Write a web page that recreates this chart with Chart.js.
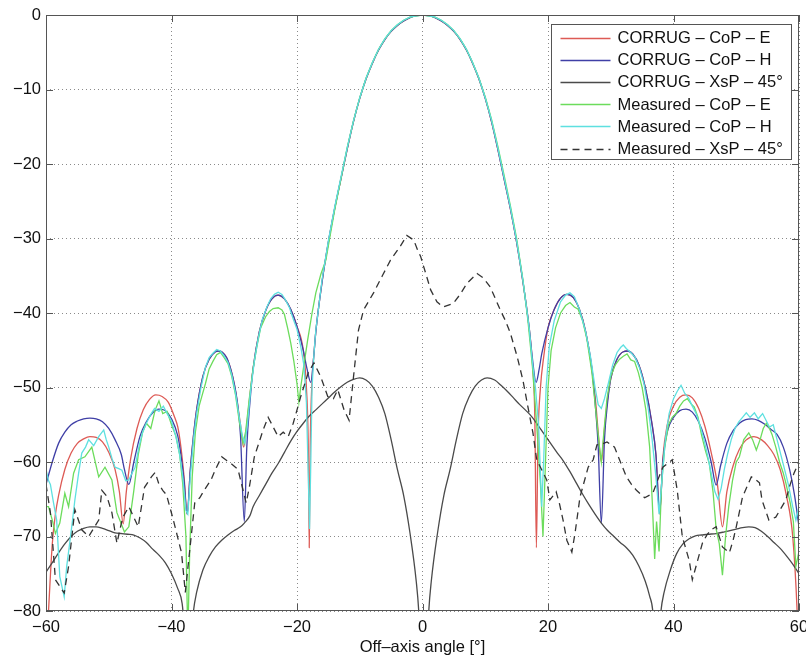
<!DOCTYPE html>
<html>
<head>
<meta charset="utf-8">
<title>Radiation pattern</title>
<script src="https://cdn.jsdelivr.net/npm/chart.js@4.4.0/dist/chart.umd.min.js"></script>
<style>
  html, body { margin: 0; padding: 0; background: #fff; }
  canvas { display: block; }
</style>
</head>
<body>
<canvas id="pattern" width="806" height="656"></canvas>
<script>
// series labels, in the order they appear in the legend
const seriesLabels = [
  'CORRUG \u2013 CoP \u2013 E',
  'CORRUG \u2013 CoP \u2013 H',
  'CORRUG \u2013 XsP \u2013 45\u00b0',
  'Measured \u2013 CoP \u2013 E',
  'Measured \u2013 CoP \u2013 H',
  'Measured \u2013 XsP \u2013 45\u00b0'
];

const xTicks = [-60, -40, -20, 0, 20, 40, 60];
const yTicks = [-80, -70, -60, -50, -40, -30, -20, -10, 0];

// CORRUG - CoP - E (model, red)
const corrugEAngle = [
  -60, -59.6, -59, -58.5, -58, -57, -56, -55, -54, -53,
  -52, -51, -50, -49, -48.3, -47.7, -47.2, -46.5, -45.5, -44.5,
  -43.5, -42.5, -41.5, -40.5, -39.5, -39, -38.5, -38, -37.5, -37,
  -36.5, -36, -35, -34, -33, -32.5, -32, -31, -30, -29,
  -28.5, -28, -27.5, -27, -26, -25, -24, -23, -22, -21,
  -20, -19, -18.5, -18.2, -18.05, -17.9, -17.6, -17.3, -17, -16,
  -15, -14, -13, -12, -11, -10, -9, -8, -7, -6,
  -5, -4, -3, -2, -1, 0, 1, 2, 3, 4,
  5, 6, 7, 8, 9, 10, 11, 12, 13, 14,
  15, 16, 17, 17.5, 17.9, 18.15, 18.4, 18.8, 19.3, 20,
  21, 22, 23, 24, 25, 26, 27, 27.6, 28, 28.5,
  29, 29.5, 30, 31, 32, 32.7, 33.5, 34.5, 35.5, 36.5,
  37.2, 37.8, 38.3, 39, 40, 41, 42, 43, 44, 45,
  46, 47, 47.8, 48.5, 49.5, 50.5, 51.5, 52.8, 54, 55,
  56, 57, 58, 59, 59.7, 60
];
const corrugEValue = [
  -86, -80, -71, -67, -64.5, -61, -58.8, -57.5, -56.9, -56.6,
  -56.7, -57.3, -58.7, -61, -64, -68.3, -64, -59.5, -55.5, -53,
  -51.6, -51, -51.2, -52, -54, -55.3, -58, -62, -67, -61,
  -56.5, -53, -48.5, -46.2, -45.2, -45.1, -45.2, -46.4, -49.5, -55,
  -58, -55, -51, -47.5, -42.5, -39.7, -38.1, -37.6, -38.1, -39.5,
  -41.8, -45, -50, -58, -71.5, -58, -49, -45.5, -42.5, -35.8,
  -30.5, -26, -22, -18, -14.3, -11.2, -8.6, -6.5, -4.7, -3.3,
  -2.2, -1.4, -0.8, -0.35, -0.08, 0, -0.08, -0.35, -0.8, -1.4,
  -2.2, -3.3, -4.7, -6.5, -8.6, -11.2, -14.3, -18, -22, -26,
  -30.5, -35.8, -42, -46.5, -54, -71.5, -57, -50, -46, -42,
  -39.5, -38, -37.5, -37.9, -39.5, -42.5, -47.5, -52, -56, -60,
  -55.5, -51.5, -48.8, -46.2, -45.2, -45.1, -45.5, -47, -50, -54.5,
  -59, -67, -59.5, -55, -52.5, -51.3, -51, -51.4, -52.8, -55.2,
  -58.7, -63, -68.7, -64, -60.5, -58.3, -57.1, -56.6, -57, -57.8,
  -59, -61, -64.5, -70, -80, -88
];

// CORRUG - CoP - H (model, blue)
const corrugHAngle = [
  -60, -59, -58, -57, -56, -55, -54, -53, -52, -51,
  -50, -49, -48, -47.5, -46.8, -46, -45, -44, -43, -42,
  -41, -40, -39, -38.5, -38, -37.5, -37, -36.5, -36, -35,
  -34, -33, -32.5, -32, -31, -30, -29.5, -29, -28.4, -28,
  -27.5, -27, -26, -25, -24, -23, -22, -21, -20, -19,
  -18.4, -17.8, -17.3, -17, -16, -15, -14, -13, -12, -11,
  -10, -9, -8, -7, -6, -5, -4, -3, -2, -1,
  0, 1, 2, 3, 4, 5, 6, 7, 8, 9,
  10, 11, 12, 13, 14, 15, 16, 17, 17.5, 18.1,
  18.6, 19, 20, 21, 22, 23, 24, 25, 26, 27,
  27.6, 28, 28.5, 29, 29.5, 30, 31, 32, 32.7, 33.5,
  34.5, 35.5, 36.5, 37.2, 37.8, 38.3, 39, 40, 41, 42,
  43, 44, 45, 46, 46.8, 47.5, 48.5, 49.5, 50.5, 51.5,
  52.5, 53.5, 54.5, 55.5, 56.5, 57.5, 58.5, 59.3, 60
];
const corrugHValue = [
  -63, -60, -57.5, -56, -55, -54.5, -54.2, -54.1, -54.2, -54.6,
  -55.5, -57, -59, -61, -63, -60, -56.5, -54.6, -53.4, -52.9,
  -53.1, -54.2, -56.5, -59, -62.5, -67, -61, -56.5, -53, -48.5,
  -46.2, -45.2, -45.1, -45.2, -46.4, -49.5, -52, -56.5, -68, -58,
  -52, -47.5, -42.5, -39.7, -38.1, -37.6, -38.1, -39.5, -41.8, -45,
  -47.5, -49.3, -45.5, -42.5, -35.8, -30.5, -26, -22, -18, -14.3,
  -11.2, -8.6, -6.5, -4.7, -3.3, -2.2, -1.4, -0.8, -0.35, -0.08,
  0, -0.08, -0.35, -0.8, -1.4, -2.2, -3.3, -4.7, -6.5, -8.6,
  -11.2, -14.3, -18, -22, -26, -30.5, -35.8, -42, -46, -49.3,
  -47.5, -45.5, -42, -39.5, -38, -37.5, -37.9, -39.5, -42.5, -47.5,
  -53, -58, -68.2, -57, -52, -48.8, -46.2, -45.2, -45.1, -45.5,
  -47, -50, -54.5, -59, -66.8, -60, -56, -54, -53.1, -52.9,
  -53.3, -54.6, -56.8, -60, -63.1, -60.5, -57.5, -55.8, -54.8, -54.3,
  -54.2, -54.4, -54.9, -55.6, -56.3, -58, -61, -64.5, -68.7
];

// CORRUG - XsP - 45 deg (model, dark grey)
const corrugXAngle = [
  -60, -59, -58, -57, -56, -55, -54, -53, -52, -51,
  -50, -49, -48, -47, -46, -45, -44, -43, -42, -41,
  -40, -39, -38.3, -37.3, -36.5, -36, -35, -34, -33, -32,
  -31, -30, -29, -28.4, -27.5, -27, -26, -25, -24, -23,
  -22, -21, -20, -19, -18, -17, -16, -15, -14, -13,
  -12, -11, -10, -9, -8, -7, -6, -5, -4, -3,
  -2, -1, -0.6, 0.2, 1, 1.4, 2.4, 3.4, 4.4, 5.4,
  6.4, 7.4, 8.4, 9.4, 10.3, 11.5, 12.5, 13.5, 14.5, 15.5,
  16.5, 17.5, 18.5, 19.5, 20.5, 21.5, 22.4, 23.5, 24.5, 25.5,
  26.5, 27.5, 28.5, 29.5, 30.5, 31.5, 32.5, 33.5, 34.5, 35.5,
  36.2, 36.7, 37.3, 38, 38.5, 39.5, 40.5, 41.5, 42.5, 43.5,
  44.5, 45.5, 46.8, 48, 49, 50, 51, 52, 53, 54,
  55, 56, 57, 58, 59, 60
];
const corrugXValue = [
  -74.8, -73.5, -72.2, -71, -70, -69.3, -68.9, -68.7, -68.7, -68.9,
  -69.2, -69.5, -69.6, -69.7, -69.8, -70.2, -70.8, -71.7, -72.5, -73.5,
  -75, -77, -79, -88, -80, -77.5, -74.5, -72.7, -71.4, -70.5,
  -69.8, -69.2, -68.7, -68.2, -67.2, -66, -64.5, -63, -61.5, -60.2,
  -58.7, -57.2, -55.9, -54.8, -53.8, -53, -52.2, -51.4, -50.6, -49.9,
  -49.3, -48.9, -48.7, -49, -49.8, -51.3, -53.5, -57, -61, -64.5,
  -69.5, -76, -80, -95, -80, -76, -69.5, -64.5, -61, -57,
  -53.5, -51.3, -49.8, -49, -48.7, -49, -49.7, -50.5, -51.4, -52.3,
  -53.1, -54, -55.2, -56.4, -57.6, -58.8, -59.8, -61.3, -62.8, -64.3,
  -65.7, -67, -68.2, -69.2, -70, -70.8, -71.5, -72.5, -74, -76,
  -78, -80, -88, -80, -77.5, -74.5, -72.3, -71, -70.3, -69.9,
  -69.8, -69.7, -69.6, -69.4, -69.2, -69, -68.8, -68.7, -68.8, -69.3,
  -70, -70.8, -71.6, -72.6, -73.7, -75
];

// Measured - CoP - E (green)
const measEAngle = [
  -60, -59.6, -59, -58.5, -57.8, -57, -56.4, -55.6, -54.8, -53.8,
  -52.7, -51.6, -50.6, -49.5, -48.7, -47.5, -46.8, -46, -45.3, -44.6,
  -44, -43.3, -42.6, -42, -41.4, -40.7, -40, -39.3, -38.7, -38.2,
  -37.7, -37.4, -37.1, -36.7, -36.2, -35.6, -35.2, -34.6, -34, -33.4,
  -32.8, -32.2, -31.6, -31, -30.4, -29.8, -29.2, -28.6, -28.2, -27.6,
  -27, -26.4, -25.8, -25, -24.4, -23.8, -23, -22.4, -22, -21.5,
  -21, -20.5, -20, -19.7, -19.4, -18.9, -18.3, -17.6, -17, -16.2,
  -15.4, -14.8, -14, -13, -12, -11, -10, -9, -8, -7,
  -6, -5, -4, -3, -2, -1, 0, 1, 2, 3,
  4, 5, 6, 7, 8, 9, 10, 11, 12, 13,
  14, 15, 16, 16.8, 17.5, 18.2, 18.8, 19.2, 19.6, 20,
  20.5, 21.2, 22, 22.8, 23.5, 24.2, 24.8, 25.5, 26.2, 27,
  27.6, 28.2, 28.5, 28.9, 29.4, 30, 30.7, 31.4, 32, 32.6,
  33.2, 33.8, 34.4, 35, 35.6, 36.2, 36.6, 37, 37.3, 37.7,
  38.1, 38.6, 39.2, 39.8, 40.4, 41, 41.6, 42.2, 42.8, 43.3,
  43.9, 44.5, 45.1, 45.7, 46.3, 46.8, 47.3, 47.8, 48.3, 48.8,
  49.4, 50, 50.5, 51.2, 52, 52.6, 53.2, 53.8, 54.3, 54.8,
  55.3, 55.7, 56.3, 56.9, 57.5, 57.9, 58.6, 59.1, 59.5, 60
];
const measEValue = [
  -66, -66, -67.8, -69.6, -68.2, -64.2, -66, -61.5, -59.7, -59.3,
  -58, -62, -60.7, -62.4, -66.8, -69.4, -68.7, -63.8, -59, -56,
  -54.8, -55.5, -53, -51.8, -53.5, -53.2, -55, -56.5, -59, -63,
  -70, -84, -72, -62, -56, -52.5, -51.3, -49.5, -47.5, -46.5,
  -45.6, -45.3, -46, -46.8, -48.5, -51, -54.5, -57.5, -56, -51.5,
  -47.5, -44.5, -42, -40.5, -39.8, -39.4, -39.3, -39.6, -40.2, -42,
  -44, -46.5, -49.5, -52, -49.9, -47, -43.6, -40, -37.3, -34.8,
  -32.9, -30, -26.2, -22, -17.8, -14.2, -11.1, -8.5, -6.4, -4.6,
  -3.2, -2.1, -1.3, -0.7, -0.3, -0.1, 0, -0.1, -0.3, -0.7,
  -1.3, -2.1, -3.2, -4.6, -6.4, -8.5, -11, -14, -17.6, -21.5,
  -25.6, -30, -35.5, -41, -47, -55, -63, -70, -60, -50,
  -45, -42, -40, -39, -38.6, -39.2, -39.5, -41, -43.5, -48,
  -53, -58, -60, -56, -51.5, -48.5, -47, -46.2, -45.8, -45.5,
  -46.3, -46.5, -48, -50, -53, -58, -65, -73, -68, -72,
  -63, -58, -55, -54, -53.5, -52.5, -51.8, -51.5, -52.2, -52.6,
  -54, -56.5, -58.5, -60.2, -64, -69, -71, -75.2, -70, -66,
  -62.5, -60, -59.3, -57, -56.1, -57, -58.4, -57, -55.5, -54.8,
  -55.5, -56.3, -58, -60, -61.5, -62.8, -65.5, -68, -74, -72
];

// Measured - CoP - H (cyan)
const measHAngle = [
  -60, -59.6, -59.3, -58.8, -58.3, -57.8, -57.1, -56.7, -56.3, -55.8,
  -55.4, -54.8, -54.3, -53.7, -53.2, -52.4, -51.6, -50.8, -50.4, -50,
  -49.5, -49, -48.4, -47.9, -47.3, -46.8, -46.3, -45.8, -45.2, -44.6,
  -44, -43.3, -42.7, -42, -41.3, -40.7, -40, -39.3, -38.7, -38.2,
  -37.7, -37.4, -37, -36.5, -36, -35.3, -34.6, -34, -33.4, -32.8,
  -32.2, -31.6, -31, -30.4, -29.8, -29.2, -28.7, -28.3, -27.9, -27.4,
  -26.8, -26.2, -25.5, -24.8, -24.2, -23.6, -23, -22.4, -21.8, -21.2,
  -20.6, -20, -19.4, -18.9, -18.5, -18.2, -18, -17.8, -17.6, -17.3,
  -17, -16, -15, -14, -13, -12, -11, -10, -9, -8,
  -7, -6, -5, -4, -3, -2, -1, 0, 1, 2,
  3, 4, 5, 6, 7, 8, 9, 10, 11, 12,
  13, 14, 15, 16, 17, 17.5, 18, 18.5, 19, 19.3,
  19.7, 20.2, 21, 22, 22.8, 23.5, 24.2, 25, 26, 26.8,
  27.5, 28, 28.5, 29, 29.6, 30.3, 31, 31.6, 32, 32.5,
  33.2, 33.9, 34.6, 35.3, 36, 36.6, 37.2, 37.7, 38.2, 38.7,
  39.3, 40, 40.6, 41.2, 41.8, 42.4, 43, 43.6, 44.2, 44.8,
  45.4, 46, 46.6, 47.1, 47.6, 48.1, 48.6, 49.2, 49.8, 50.4,
  51, 51.6, 52.2, 52.9, 53.5, 54.2, 54.8, 55.3, 55.9, 56.5,
  57.1, 57.7, 58.3, 59, 59.5, 60
];
const measHValue = [
  -61, -62.5, -63, -65.5, -67.8, -75.4, -78.1, -74, -71.4, -68,
  -65.1, -61.5, -58.8, -58, -57, -57.8, -56.6, -55.7, -57, -58,
  -59.5, -60.7, -60.9, -61.1, -62.5, -62.4, -61.5, -60.7, -58, -56,
  -54.8, -53.6, -52.8, -53.2, -52.5, -53.5, -54.5, -56.6, -59, -62,
  -66.5, -67, -62, -57, -53.5, -50, -47.3, -46, -45.4, -44.9,
  -45.1, -45.8, -46.6, -48.3, -50.8, -54, -56.5, -57.5, -55, -50.5,
  -46.5, -43.5, -40.8, -39.2, -38.1, -37.5, -37.2, -37.5, -38.3, -39.3,
  -40.8, -42.2, -44.5, -47, -52, -62, -69, -60, -50, -45.5,
  -42.3, -35.5, -30.3, -25.8, -21.8, -17.8, -14.2, -11.1, -8.5, -6.4,
  -4.6, -3.2, -2.1, -1.3, -0.7, -0.3, -0.1, 0, -0.1, -0.3,
  -0.7, -1.3, -2.1, -3.2, -4.6, -6.4, -8.5, -11.1, -14.1, -17.8,
  -21.8, -25.8, -30.3, -35.6, -42, -46.5, -50, -55, -66, -60,
  -50, -44.5, -41, -38.5, -37.6, -37.3, -37.8, -39.5, -42.5, -46,
  -50, -52.3, -52.8, -51.5, -49.5, -47, -45.3, -44.6, -44.3, -44.8,
  -45.3, -46, -47.4, -49.5, -53, -57, -62, -67, -62, -57,
  -53.5, -51.5, -50.5, -49.7, -50.8, -51.4, -52.5, -53.5, -55, -56.8,
  -59, -61.5, -64, -65, -63.5, -61, -59, -57, -55.5, -54.6,
  -54, -53.4, -54, -53.4, -54.2, -53.5, -54.5, -55.3, -55, -57,
  -59, -61, -63, -66, -67.8, -66
];

// Measured - XsP - 45 deg (dashed)
const measXAngle = [
  -60, -59.3, -58.5, -57.1, -56.4, -55.4, -54.3, -53.2, -51.6, -51.1,
  -50.3, -49.5, -48.7, -47.8, -46.8, -45.3, -44.3, -43.2, -42.6, -42,
  -41.4, -40.8, -39.7, -38.4, -37.8, -36.3, -35.5, -34.8, -33.7, -33,
  -32, -31.2, -30.5, -29.4, -28.1, -27.6, -26.8, -25.4, -24.6, -23,
  -22.2, -21.4, -20.6, -19.4, -18.2, -17.3, -16.2, -15.1, -14.2, -13.5,
  -12.5, -11.7, -11, -10.2, -9.4, -7.8, -6.4, -5.1, -3.5, -2.5,
  -1.4, -0.8, -0.3, 1.3, 2.3, 3.3, 4.9, 6, 7.1, 8.7,
  9.7, 10.8, 12.4, 13.2, 14, 15.1, 16, 16.8, 17.6, 18.2,
  19.8, 20.3, 21.3, 21.8, 22.4, 23, 23.8, 24.3, 25.1, 26.4,
  27.2, 27.8, 28.6, 29.4, 30.6, 31.4, 32.5, 33.3, 34.1, 35.4,
  36.7, 37.5, 38.3, 39.8, 40.6, 41.4, 42.5, 43, 44.6, 45.3,
  46, 46.8, 47.8, 48.9, 49.5, 50, 51, 52.4, 52.9, 53.7,
  54.1, 55.2, 56.3, 57.9, 58.6, 59.2, 60
];
const measXValue = [
  -63, -66.8, -75.8, -77.6, -74, -66.4, -69.1, -70, -67.8, -63.8,
  -64.6, -66.8, -70.9, -67.5, -66, -68.7, -63.4, -62, -61.4, -63,
  -63.8, -64.4, -67.8, -72.2, -77.5, -65.5, -64.8, -63.8, -62.4, -61,
  -59.3, -59.8, -60.2, -61, -65.5, -63.4, -59.3, -55.7, -54, -56.6,
  -56, -56.6, -54.8, -51.2, -48, -46.7, -48.6, -51.2, -51.5, -50.3,
  -53, -54.4, -48.6, -42.3, -39.6, -37.3, -35, -32.9, -31, -29.6,
  -30.2, -31.5, -32.4, -36.9, -38.5, -39.2, -38.7, -37.5, -36, -34.7,
  -35.3, -36.5, -39.6, -41, -42.7, -45.9, -49, -52.6, -56.1, -59.7,
  -62.4, -65.1, -64, -65.5, -67.8, -70.5, -72.1, -69.6, -64.7, -60.7,
  -59.7, -57.7, -57.6, -57.3, -58, -59.7, -62, -63, -63.8, -64.8,
  -64.2, -62.4, -60.7, -59.7, -63.8, -70, -73.2, -75.8, -70.9, -69.8,
  -69.1, -68.7, -71.4, -72.2, -70.5, -68.7, -64.7, -62, -62.2, -62.8,
  -65.1, -67.8, -67.4, -65.1, -63, -61.5, -60
];

function toPoints(angles, values) {
  if (angles.length !== values.length) {
    throw new Error('length mismatch ' + angles.length + ' vs ' + values.length);
  }
  return angles.map((a, i) => ({ x: a, y: values[i] }));
}

const minusLabel = v => (v < 0 ? '\u2212' + Math.abs(v) : String(v));
const fontFamily = '"Liberation Sans", Arial, Helvetica, sans-serif';

// box round the plot, inward tick marks and the boxed legend
const framePlugin = {
  id: 'frame',
  afterDraw(chart) {
    const ctx = chart.ctx;
    const area = chart.chartArea;
    const sx = chart.scales.x, sy = chart.scales.y;
    ctx.save();
    ctx.strokeStyle = '#555';
    ctx.lineWidth = 1;
    ctx.strokeRect(Math.round(area.left) + 0.5, Math.round(area.top) + 0.5,
      Math.round(area.right - area.left) - 1, Math.round(area.bottom - area.top) - 1);
    ctx.beginPath();
    xTicks.forEach(v => {
      const px = Math.round(sx.getPixelForValue(v)) + 0.5;
      ctx.moveTo(px, area.bottom); ctx.lineTo(px, area.bottom - 7);
      ctx.moveTo(px, area.top); ctx.lineTo(px, area.top + 7);
    });
    yTicks.forEach(v => {
      const py = Math.round(sy.getPixelForValue(v)) + 0.5;
      ctx.moveTo(area.left, py); ctx.lineTo(area.left + 7, py);
      ctx.moveTo(area.right, py); ctx.lineTo(area.right - 7, py);
    });
    ctx.stroke();

    // legend
    const boxW = 240, boxH = 135, rowH = 22.2;
    const bx = Math.round(area.right - 8 - boxW) + 0.5;
    const by = Math.round(area.top + 9) + 0.5;
    ctx.fillStyle = '#fff';
    ctx.fillRect(bx, by, boxW, boxH);
    ctx.strokeStyle = '#555';
    ctx.strokeRect(bx, by, boxW, boxH);
    ctx.font = '16.5px ' + fontFamily;
    ctx.textBaseline = 'middle';
    ctx.textAlign = 'left';
    chart.data.datasets.forEach((ds, i) => {
      const cy = by + 13 + i * rowH;
      ctx.save();
      ctx.strokeStyle = ds.borderColor;
      ctx.lineWidth = ds.borderWidth;
      ctx.setLineDash(ds.borderDash || []);
      ctx.beginPath();
      ctx.moveTo(bx + 9, Math.round(cy) + 0.5);
      ctx.lineTo(bx + 59, Math.round(cy) + 0.5);
      ctx.stroke();
      ctx.restore();
      ctx.fillStyle = '#111';
      ctx.fillText(seriesLabels[i], bx + 66, cy + 1);
    });
    ctx.restore();
  }
};

const seriesStyle = [
  { color: '#dd5a55', order: 6, smooth: true },
  { color: '#3f3fa6', order: 5, smooth: true },
  { color: '#4a4a4a', order: 4, smooth: true },
  { color: '#6cdc5c', order: 3, smooth: false },
  { color: '#5ee0e0', order: 2, smooth: false },
  { color: '#333333', order: 1, smooth: false, dash: [7, 5] }
];
const seriesPoints = [
  toPoints(corrugEAngle, corrugEValue),
  toPoints(corrugHAngle, corrugHValue),
  toPoints(corrugXAngle, corrugXValue),
  toPoints(measEAngle, measEValue),
  toPoints(measHAngle, measHValue),
  toPoints(measXAngle, measXValue)
];

const datasets = seriesPoints.map((pts, i) => {
  const st = seriesStyle[i];
  return {
    label: seriesLabels[i],
    data: pts,
    borderColor: st.color,
    backgroundColor: st.color,
    borderWidth: 1.3,
    borderDash: st.dash || [],
    pointRadius: 0,
    fill: false,
    order: st.order,
    tension: st.smooth ? 0.3 : 0,
    cubicInterpolationMode: st.smooth ? 'monotone' : 'default'
  };
});

new Chart(document.getElementById('pattern').getContext('2d'), {
  type: 'line',
  data: { datasets: datasets },
  options: {
    responsive: false,
    animation: false,
    devicePixelRatio: 1,
    layout: { padding: { top: 15, right: 7, left: 0, bottom: 0 } },
    plugins: {
      legend: { display: false },
      tooltip: { enabled: false }
    },
    scales: {
      x: {
        type: 'linear',
        min: -60,
        max: 60,
        afterBuildTicks: s => { s.ticks = xTicks.map(v => ({ value: v })); },
        afterFit: s => { s.height = 45; s.paddingLeft = 0; s.paddingRight = 0; },
        grid: { color: '#8a8a8a', lineWidth: 1, drawTicks: false },
        border: { display: false, dash: [1, 3] },
        ticks: {
          padding: 7,
          color: '#111',
          font: { size: 16.5, family: fontFamily },
          maxRotation: 0,
          callback: minusLabel
        },
        title: {
          display: true,
          text: 'Off\u2013axis angle [\u00b0]',
          color: '#111',
          font: { size: 16.5, family: fontFamily, lineHeight: 1 },
          padding: { top: 0, bottom: 0 }
        }
      },
      y: {
        type: 'linear',
        min: -80,
        max: 0,
        afterBuildTicks: s => { s.ticks = yTicks.map(v => ({ value: v })); },
        afterFit: s => { s.width = 46; s.paddingTop = 0; s.paddingBottom = 0; },
        grid: { color: '#8a8a8a', lineWidth: 1, drawTicks: false },
        border: { display: false, dash: [1, 3] },
        ticks: {
          padding: 5,
          color: '#111',
          font: { size: 16.5, family: fontFamily },
          callback: minusLabel
        }
      }
    }
  },
  plugins: [framePlugin]
});
</script>
</body>
</html>
